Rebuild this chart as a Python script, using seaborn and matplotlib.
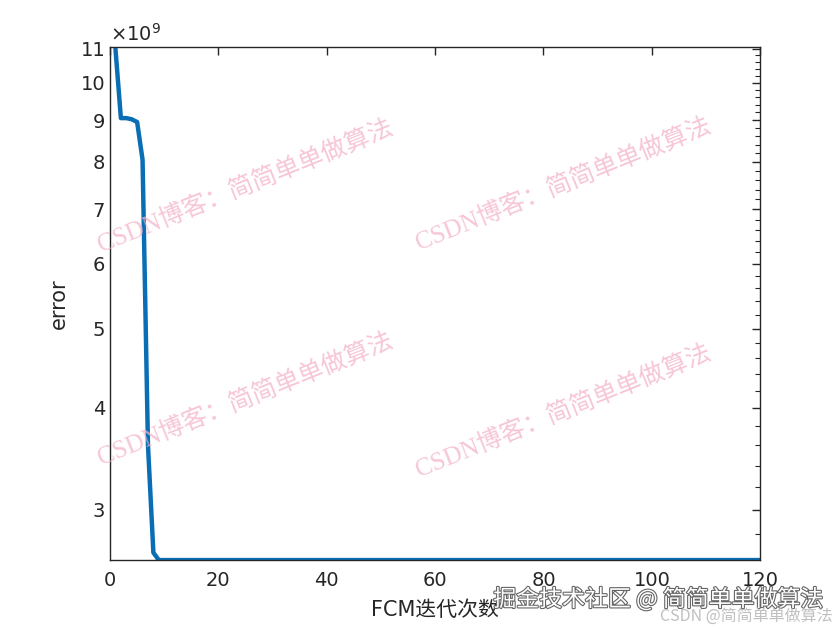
import matplotlib
matplotlib.use("Agg")
import matplotlib.pyplot as plt
import matplotlib.patheffects as pe
from matplotlib.ticker import FixedLocator, MultipleLocator, FormatStrFormatter, NullFormatter
import seaborn as sns
import pandas as pd

# Datos (error en unidades de 1e9)
iteraciones = list(range(1, 121))
error_inicio = [11.0, 9.05, 9.05, 9.02, 8.95, 8.05, 3.6, 2.66, 2.605]
error_final = [2.605] * 111
error = error_inicio + error_final

yticks = [3, 4, 5, 6, 7, 8, 9, 10, 11]
xticks = [0, 20, 40, 60, 80, 100, 120]

df = pd.DataFrame({"iter": iteraciones, "error": error})

sns.set_style("white")
plt.rcParams['font.family'] = ['DejaVu Sans', 'Noto Sans CJK SC']

fig = plt.figure(figsize=(8.4, 6.3), dpi=100)
ax = fig.add_axes([0.131, 0.111, 0.774, 0.814])

sns.lineplot(data=df, x="iter", y="error", color="#0A6EB4", lw=3.2, ax=ax)

ax.set_yscale("log")
ax.set_xlim(0, 120)
ax.set_ylim(min(error), max(error) + 0.05)
ax.yaxis.set_major_locator(FixedLocator(yticks))
ax.yaxis.set_major_formatter(FormatStrFormatter("%d"))
ax.yaxis.set_minor_locator(MultipleLocator(0.2))
ax.yaxis.set_minor_formatter(NullFormatter())
ax.set_xticks(xticks)

ax.tick_params(which="both", direction="in", top=True, right=True, labelsize=14, colors="#262626")
ax.tick_params(which="major", length=6, width=1)
ax.tick_params(which="minor", length=3.5, width=0.8)
ax.tick_params(axis="x", pad=8)
for s in ax.spines.values():
    s.set_color("#262626")
    s.set_linewidth(1.0)

ax.set_xlabel("FCM迭代次数", fontsize=15, family=['DejaVu Sans', 'Noto Sans CJK SC'], labelpad=7)
ax.set_ylabel("error", fontsize=15, labelpad=8)
ax.text(0.0, 1.005, r"$\times10^{9}$", transform=ax.transAxes, fontsize=14, ha="left", va="bottom", color="#262626")

# marcas de agua
wm = "CSDN博客：简简单单做算法"
for (x, y) in [(245, 187), (563, 185), (245, 400), (563, 412)]:
    fig.text(x / 840, 1 - y / 630, wm, fontsize=18, color="#F4B3C8", alpha=0.75,
             rotation=22, ha="center", va="center",
             family=['Liberation Serif', 'Noto Sans CJK SC'], zorder=5)

fig.text(658 / 840, 1 - 599 / 630, "掘金技术社区 @ 简简单单做算法", fontsize=16.5, color="white",
         ha="center", va="center", family=['Noto Sans CJK SC', 'DejaVu Sans'],
         path_effects=[pe.withStroke(linewidth=1.6, foreground="#666666")], zorder=6)
fig.text(746 / 840, 1 - 616 / 630, "CSDN @简简单单做算法", fontsize=11.5, color="#C0C0C0",
         ha="center", va="center", family=['Noto Sans CJK SC', 'DejaVu Sans'], zorder=6)

fig.savefig("out.png", dpi=100, facecolor="white")
